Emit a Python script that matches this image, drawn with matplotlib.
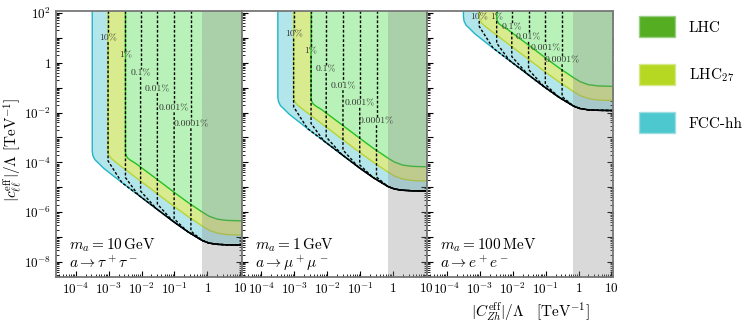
import numpy as np
import matplotlib.pyplot as plt
from matplotlib.patches import Patch
from matplotlib.ticker import LogLocator, FuncFormatter, NullFormatter

plt.rcParams["mathtext.fontset"] = "cm"
plt.rcParams["font.family"] = "serif"
plt.rcParams["font.serif"] = ["cmr10", "DejaVu Serif"]
plt.rcParams["axes.formatter.use_mathtext"] = True

# sensitivity boundaries, log10 values
# x = |C_Zh|/Lambda, y = |c_ll|/Lambda ; one y list per panel
fcc_logx = [-3.50, -3.50, -3.48, -3.42, -3.31, -3.15, -2.6, -2.1, -1.55, -1.05, -0.6, -0.35, -0.15, 0.05, 0.3, 0.6, 1.1]
fcc_logy = [
    [2.5, -3.55, -3.73, -3.89, -4.03, -4.24, -4.81, -5.31, -5.86, -6.36, -6.78, -6.98, -7.14, -7.24, -7.29, -7.31, -7.32],
    [2.5, -1.38, -1.56, -1.72, -1.86, -2.07, -2.64, -3.14, -3.69, -4.19, -4.61, -4.81, -4.97, -5.07, -5.12, -5.14, -5.15],
    [2.5, 1.85, 1.67, 1.51, 1.37, 1.16, 0.59, 0.09, -0.46, -0.96, -1.38, -1.58, -1.74, -1.84, -1.89, -1.91, -1.92],
]
lhc27_logx = [-3.02, -3.02, -3.00, -2.95, -2.86, -2.72, -2.0, -1.0, -0.6, -0.35, -0.15, 0.05, 0.3, 0.6, 1.1]
lhc27_logy = [
    [2.5, -3.55, -3.68, -3.80, -3.91, -4.06, -4.78, -5.78, -6.16, -6.38, -6.56, -6.72, -6.84, -6.90, -6.92],
    [2.5, -1.38, -1.51, -1.63, -1.74, -1.89, -2.61, -3.61, -3.99, -4.21, -4.39, -4.55, -4.67, -4.73, -4.75],
    [2.5, 1.85, 1.72, 1.60, 1.49, 1.34, 0.62, -0.38, -0.76, -0.98, -1.16, -1.32, -1.44, -1.50, -1.52],
]
lhc_logx = [-2.49, -2.49, -2.47, -2.42, -2.33, -2.18, -1.5, -1.0, -0.6, -0.35, -0.15, 0.05, 0.3, 0.6, 1.1]
lhc_logy = [
    [2.5, -3.60, -3.72, -3.83, -3.92, -4.04, -4.71, -5.21, -5.60, -5.82, -6.00, -6.16, -6.28, -6.33, -6.35],
    [2.5, -1.43, -1.55, -1.66, -1.75, -1.87, -2.54, -3.04, -3.43, -3.65, -3.83, -3.99, -4.11, -4.16, -4.18],
    [2.5, 1.80, 1.68, 1.57, 1.48, 1.36, 0.69, 0.19, -0.20, -0.42, -0.60, -0.76, -0.88, -0.93, -0.95],
]

# branching ratio contours (dotted)
br_labels = ["10%", "1%", "0.1%", "0.01%", "0.001%", "0.0001%"]
br_logx = [-3.02, -2.49, -2.03, -1.52, -1.01, -0.50]
br_end_logy = [
    [-3.94, -4.61, -5.15, -5.67, -6.27, -6.76],
    [-1.77, -2.44, -2.98, -3.50, -4.10, -4.59],
    [1.46, 0.79, 0.25, -0.27, -0.87, -1.36],
]
br_label_logy = [
    [1.0, 0.31, -0.41, -1.05, -1.82, -2.46],
    [1.14, 0.45, -0.24, -0.93, -1.64, -2.34],
    [1.85, 1.85, 1.41, 1.01, 0.57, 0.11],
]

mass_labels = [r"$m_a = 10\,\mathrm{GeV}$", r"$m_a = 1\,\mathrm{GeV}$", r"$m_a = 100\,\mathrm{MeV}$"]
decay_labels = [r"$a \to \tau^+\tau^-$", r"$a \to \mu^+\mu^-$", r"$a \to e^+e^-$"]

grey_xmin = 0.7
xlim = (2.5e-5, 11)
ylim = (2.5e-9, 120)

fcc_fill, fcc_line = "#b3e6ea", "#22b5c8"
lhc27_fill, lhc27_line = "#d8eb8e", "#bad532"
lhc_fill, lhc_line = "#b8f2b8", "#25c025"


def tick_fmt(v, pos):
    e = int(round(np.log10(v)))
    if e == 0:
        return "$1$"
    if e == 1:
        return "$10$"
    return "$10^{%d}$" % e


def ytick_fmt(v, pos):
    e = int(round(np.log10(v)))
    if e % 2:
        return ""
    return tick_fmt(v, pos)


def draw_region(ax, logx, logy, fill, edge, z):
    xs = list(10.0 ** np.array(logx))
    ys = list(10.0 ** np.array(logy))
    ax.fill(xs + [xs[-1]], ys + [ys[0]], color=fill, lw=0, zorder=z)
    ax.plot(xs, ys, color=edge, lw=1.0, zorder=z + 0.5)


fig = plt.figure(figsize=(7.47, 3.28), dpi=100)
W, H = 747, 328
axes = []
for i in range(3):
    left = 56 + i * 185.6
    ax = fig.add_axes([left / W, 1 - 277 / H, 185.6 / W, 266 / H])
    axes.append(ax)

for i, ax in enumerate(axes):
    ax.set_xscale("log")
    ax.set_yscale("log")

    draw_region(ax, fcc_logx, fcc_logy[i], fcc_fill, fcc_line, 1)
    draw_region(ax, lhc27_logx, lhc27_logy[i], lhc27_fill, lhc27_line, 2)
    draw_region(ax, lhc_logx, lhc_logy[i], lhc_fill, lhc_line, 3)

    ax.axvspan(grey_xmin, 100, color=(0.55, 0.55, 0.55), alpha=0.33, lw=0, zorder=4)

    # contours: vertical part broken at the label, then the tail along the FCC-hh edge
    for j, lx in enumerate(br_logx):
        xv = 10.0 ** lx
        yl = br_label_logy[i][j]
        gap = 0.17
        ls = (0, (2.0, 1.4))
        ax.plot([xv, xv], [10.0 ** 2.5, 10.0 ** (yl + gap)], color="k", lw=1.0, ls=ls, zorder=5)
        tail = [(x, y) for x, y in zip(fcc_logx, fcc_logy[i]) if x >= lx + 0.35 - 1e-9]
        tx = [lx, lx] + [t[0] for t in tail]
        ty = [yl - gap, br_end_logy[i][j]] + [t[1] for t in tail]
        ax.plot(10.0 ** np.array(tx), 10.0 ** np.array(ty), color="k", lw=1.0, ls=ls, zorder=5)
        ax.text(xv, 10.0 ** yl, br_labels[j], fontsize=7, ha="center", va="center",
                color="#333333", zorder=6)

    ax.text(0.07, 0.105, mass_labels[i], transform=ax.transAxes, fontsize=11, zorder=7)
    ax.text(0.07, 0.035, decay_labels[i], transform=ax.transAxes, fontsize=11, zorder=7)

    ax.set_xlim(*xlim)
    ax.set_ylim(*ylim)

    ax.xaxis.set_major_locator(LogLocator(base=10, numticks=20))
    ax.xaxis.set_minor_locator(LogLocator(base=10, subs=np.arange(2, 10), numticks=20))
    ax.xaxis.set_major_formatter(FuncFormatter(tick_fmt))
    ax.xaxis.set_minor_formatter(NullFormatter())
    ax.yaxis.set_major_locator(LogLocator(base=10, numticks=20))
    ax.yaxis.set_minor_locator(LogLocator(base=10, subs=np.arange(2, 10), numticks=20))
    ax.yaxis.set_major_formatter(FuncFormatter(ytick_fmt))
    ax.yaxis.set_minor_formatter(NullFormatter())

    ax.tick_params(which="both", direction="in", left=True, right=True, top=False, bottom=True,
                   labelsize=9.5, color="k", zorder=8)
    ax.tick_params(which="major", length=4, width=0.8)
    ax.tick_params(which="minor", length=2.3, width=0.6)
    if i > 0:
        ax.tick_params(labelleft=False)
    for s in ax.spines.values():
        s.set_color("#777777")
        s.set_linewidth(1.3)
        s.set_zorder(9)

fig.text(13 / W, 1 - 150 / H, r"$|c_{\ell\ell}^{\mathrm{eff}}|/\Lambda\ [\mathrm{TeV}^{-1}]$",
         rotation=90, ha="center", va="center", fontsize=11)
axes[2].text(0.555, -0.13, r"$|C_{Zh}^{\mathrm{eff}}|/\Lambda\quad[\mathrm{TeV}^{-1}]$",
             transform=axes[2].transAxes, ha="center", va="center", fontsize=11)

handles = [
    Patch(facecolor="#55ad22", edgecolor="#9ccf86", lw=1.0, label="LHC"),
    Patch(facecolor="#b6d823", edgecolor="#d6e88a", lw=1.0, label=r"LHC$_{27}$"),
    Patch(facecolor="#4ec8cf", edgecolor="#9fdde2", lw=1.0, label="FCC-hh"),
]
fig.legend(handles=handles, loc="upper left", bbox_to_anchor=(639 / W, 1 - 16 / H),
           frameon=False, fontsize=11, handlelength=2.35, handleheight=1.76,
           labelspacing=1.76, handletextpad=0.9, borderpad=0, borderaxespad=0)

fig.savefig("out.png", dpi=100)
